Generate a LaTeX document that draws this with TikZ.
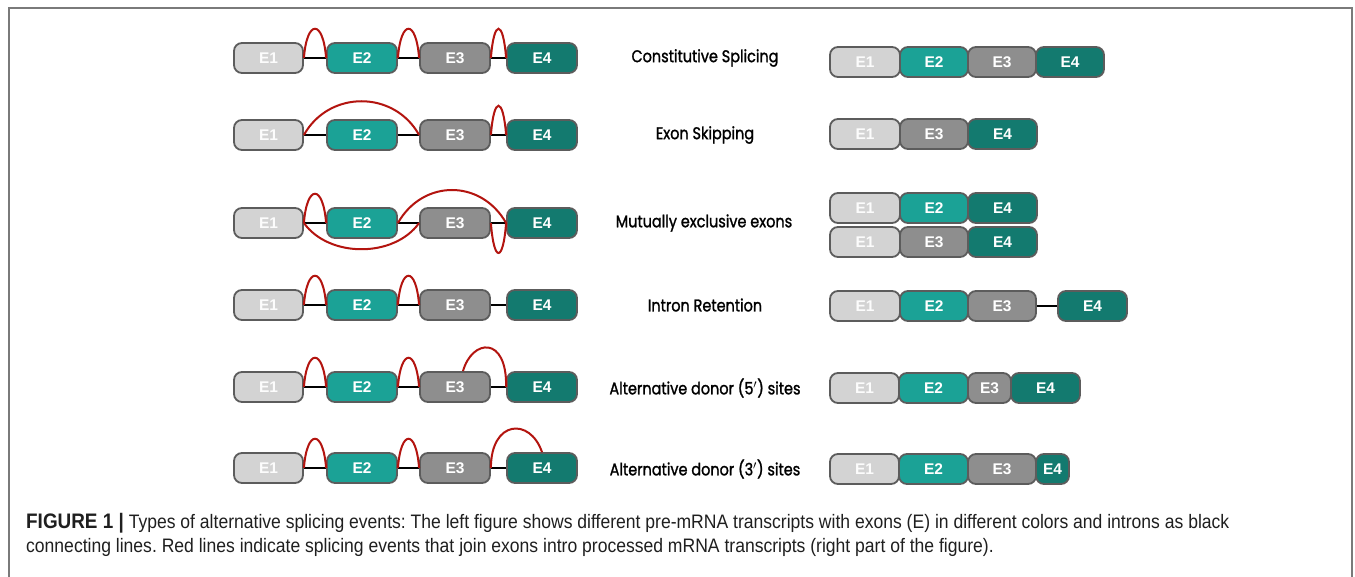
\documentclass[tikz,border=0pt]{standalone}
\usepackage{fontspec}
\usetikzlibrary{calc}
\frenchspacing
\newfontfamily\exfont{Liberation Sans}
\newfontfamily\labfont[FakeStretch=0.85,FakeBold=1.3]{Poppins}
\newfontfamily\capfont[FakeStretch=0.9]{Liberation Sans}
\definecolor{cA}{HTML}{D3D3D3}
\definecolor{cB}{HTML}{1BA296}
\definecolor{cC}{HTML}{8E8E8E}
\definecolor{cD}{HTML}{137A6F}
\definecolor{bord}{HTML}{5C5C5C}
\definecolor{spl}{HTML}{B3140F}
\definecolor{framec}{HTML}{7A7A7A}
\tikzset{
  exon/.style={draw=bord, line width=1.8pt, rounded corners=8pt, minimum height=30pt,
    inner sep=0pt, text=white, font=\exfont\bfseries\fontsize{15.5}{15.5}\selectfont},
  xa/.style={exon, fill=cA, text=white!93!cA},
  xb/.style={exon, fill=cB},
  xc/.style={exon, fill=cC},
  xd/.style={exon, fill=cD},
  intron/.style={draw=black, line width=1.6pt},
  splice/.style={draw=spl, line width=2pt},
  lab/.style={font=\labfont\fontsize{17}{17}\selectfont, text=black},
  captext/.style={font=\capfont\fontsize{19.5}{19.5}\selectfont, text=black!88, anchor=west, inner sep=0pt}
}
\newcommand{\prerow}[2]{%
  \node[xa, minimum width=69pt] (#1a) at (268.5,#2) {E1};
  \node[xb, minimum width=70pt] (#1b) at (362,#2) {E2};
  \node[xc, minimum width=70pt] (#1c) at (455,#2) {E3};
  \node[xd, minimum width=70pt] (#1d) at (542,#2) {E4};
  \draw[intron] (#1a.east) -- (#1b.west);
  \draw[intron] (#1b.east) -- (#1c.west);
  \draw[intron] (#1c.east) -- (#1d.west);
}
\newcommand{\narrowup}[2]{%
  \draw[splice] (#1.east) .. controls ($(#1.east)+(3,-39)$) and ($(#2.west)+(-3,-39)$) .. (#2.west);
}
\begin{document}
\begin{tikzpicture}[x=1pt,y=-1pt]
\useasboundingbox (0,0) rectangle (1355,577);
\fill[white] (0,0) rectangle (1355,577);
\draw[framec, line width=1.3pt] (9,577) -- (9,8) -- (1352,8) -- (1352,577);

% ---------- left: pre-mRNA ----------
\prerow{p1}{58}
\narrowup{p1a}{p1b}
\narrowup{p1b}{p1c}
\narrowup{p1c}{p1d}

\prerow{p2}{135}
\draw[splice] (p2a.east) .. controls ($(p2a.east)+(25,-45)$) and ($(p2c.west)+(-25,-45)$) .. (p2c.west);
\narrowup{p2c}{p2d}

\prerow{p3}{223}
\narrowup{p3a}{p3b}
\draw[splice] (p3b.east) .. controls ($(p3b.east)+(25,-44)$) and ($(p3d.west)+(-25,-44)$) .. (p3d.west);
\draw[splice] (p3a.east) .. controls ($(p3a.east)+(25,35)$) and ($(p3c.west)+(-25,35)$) .. (p3c.west);
\draw[splice] (p3c.east) .. controls ($(p3c.east)+(3,40)$) and ($(p3d.west)+(-3,40)$) .. (p3d.west);

\prerow{p4}{305}
\narrowup{p4a}{p4b}
\narrowup{p4b}{p4c}

\prerow{p5}{387}
\narrowup{p5a}{p5b}
\narrowup{p5b}{p5c}
\coordinate (d5) at ($(p5c.north)+(8,0)$);
\draw[splice] (d5) .. controls ($(d5)+(9,-32)$) and ($(p5d.west)+(1,-52)$) .. (p5d.west);

\prerow{p6}{468}
\narrowup{p6a}{p6b}
\narrowup{p6b}{p6c}
\draw[splice] (p6c.east) .. controls ($(p6c.east)+(0,-48)$) and ($(p6d.north)+(-12,-35)$) .. (p6d.north);

% ---------- middle labels ----------
\node[lab] (t1) at (705,58) {Constitutive Splicing};
\node[lab] (t2) at (705,135) {Exon Skipping};
\node[lab] (t3) at (704,223) {Mutually exclusive exons};
\node[lab] (t4) at (705,305) {Intron Retention};
\node[lab] (t5) at (705,388) {Alternative donor (5$'$) sites};
\node[lab] (t6) at (705,469) {Alternative donor (3$'$) sites};

% ---------- right: mRNA ----------
\node[xa, minimum width=70pt] (s1a) at (865,62) {E1};
\node[xb, minimum width=68pt] (s1b) at (934,62) {E2};
\node[xc, minimum width=68pt] (s1c) at (1002,62) {E3};
\node[xd, minimum width=68pt] (s1d) at (1070,62) {E4};

\node[xa, minimum width=70pt] (s2a) at (865,134) {E1};
\node[xc, minimum width=68pt] (s2c) at (934,134) {E3};
\node[xd, minimum width=69pt] (s2d) at (1002.5,134) {E4};

\node[xa, minimum width=70pt] (s3a) at (865,208) {E1};
\node[xb, minimum width=68pt] (s3b) at (934,208) {E2};
\node[xd, minimum width=69pt] (s3d) at (1002.5,208) {E4};

\node[xa, minimum width=70pt] (s3e) at (865,242) {E1};
\node[xc, minimum width=68pt] (s3f) at (934,242) {E3};
\node[xd, minimum width=69pt] (s3g) at (1002.5,242) {E4};

\node[xa, minimum width=70pt] (s4a) at (865,306) {E1};
\node[xb, minimum width=68pt] (s4b) at (934,306) {E2};
\node[xc, minimum width=68pt] (s4c) at (1002,306) {E3};
\node[xd, minimum width=69pt] (s4d) at (1092.5,306) {E4};
\draw[intron] (s4c.east) -- (s4d.west);

\node[xa, minimum width=69pt] (s5a) at (864.5,388) {E1};
\node[xb, minimum width=69pt] (s5b) at (933.5,388) {E2};
\node[xc, minimum width=43pt] (s5c) at (989.5,388) {E3};
\node[xd, minimum width=69pt] (s5d) at (1045.5,388) {E4};

\node[xa, minimum width=69pt] (s6a) at (864.5,469) {E1};
\node[xb, minimum width=69pt] (s6b) at (933.5,469) {E2};
\node[xc, minimum width=68pt] (s6c) at (1002,469) {E3};
\node[xd, minimum width=33pt] (s6d) at (1052.5,469) {E4};

% ---------- caption ----------
\node[captext] (c1) at (26,523) {{\fontsize{21}{21}\selectfont\textbf{FIGURE 1 |}} Types of alternative splicing events: The left figure shows different pre-mRNA transcripts with exons (E) in different colors and introns as black};
\node[captext] (c2) at (26,547) {connecting lines. Red lines indicate splicing events that join exons intro processed mRNA transcripts (right part of the figure).};
\end{tikzpicture}
\end{document}
